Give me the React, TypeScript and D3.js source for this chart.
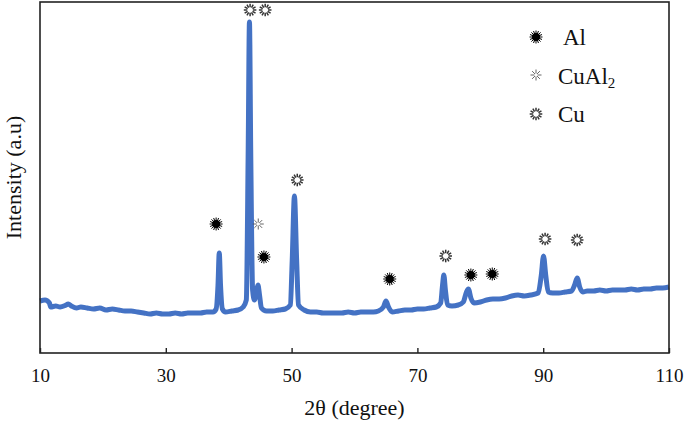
// XRD pattern chart
import React, { useEffect, useRef } from 'react';
import * as d3 from 'd3';

const twoTheta = [
  10.0, 10.8, 11.5, 11.7, 12.5, 13.2, 14.0, 14.5, 15.0, 15.8, 16.5, 17.5, 18.5, 19.5, 20.5,
  21.5, 22.5, 23.5, 24.5, 25.5, 26.5, 27.5, 28.5, 29.5, 30.5, 31.5, 32.5, 33.5, 34.5, 35.5,
  36.5, 37.5, 38.0, 38.3, 38.5, 38.7, 39.0, 39.5, 40.5, 41.5, 42.3, 42.8, 43.1, 43.3, 43.5,
  43.8, 44.1, 44.4, 44.65, 44.9, 45.2, 46, 47, 48, 49, 49.8, 50.1, 50.45, 50.8, 51.1,
  52, 53, 54, 55, 56, 57, 58, 59, 60, 61, 62, 63, 63.8, 64.6, 65.0,
  65.4, 66.0, 67, 68, 69, 70, 71, 72, 73, 73.7, 74.0, 74.2, 74.45, 74.8, 75.5,
  76.5, 77.3, 77.8, 78.1, 78.5, 79, 80, 81, 82, 83, 84, 85, 86, 87, 88,
  89.2, 89.7, 90.05, 90.4, 90.8, 91.5, 92.5, 93.5, 94.5, 95.0, 95.4, 95.8, 96.3, 97, 98,
  99, 100, 101, 102, 103, 104, 105, 106, 107, 108, 109, 110
];
const intensity = [
  520, 530, 500, 460, 470, 460, 475, 490, 470, 450, 460, 450, 440, 450, 430,
  440, 430, 420, 420, 410, 400, 390, 400, 390, 390, 400, 390, 400, 400, 400,
  410, 410, 440, 680, 1000, 680, 440, 410, 420, 430, 460, 530, 2030, 3310, 2030,
  630, 530, 610, 680, 580, 450, 420, 420, 430, 440, 480, 930, 1570, 930, 480,
  430, 410, 410, 400, 400, 400, 400, 410, 400, 410, 410, 410, 420, 460, 520,
  460, 410, 420, 430, 430, 440, 440, 450, 460, 500, 680, 780, 630, 480, 470,
  480, 510, 610, 640, 550, 500, 510, 530, 540, 540, 550, 570, 580, 570, 580,
  600, 780, 970, 780, 610, 600, 600, 610, 620, 680, 750, 660, 610, 620, 620,
  630, 620, 630, 630, 630, 640, 630, 640, 640, 650, 650, 660
];

// phase markers: [2θ, intensity]
const alMarks: [number, number][] = [[38.0, 1290], [45.6, 960], [65.6, 740], [78.5, 780], [81.9, 790]];
const cuAl2Marks: [number, number][] = [[44.7, 1290]];
const cuMarks: [number, number][] = [[43.4, 3430], [45.8, 3430], [50.9, 1730], [74.5, 970], [90.3, 1140], [95.4, 1130]];

const xTicks = [10, 30, 50, 70, 90, 110];
const legendItems = [
  { kind: 'al', label: 'Al', sub: '' },
  { kind: 'cual2', label: 'CuAl', sub: '2' },
  { kind: 'cu', label: 'Cu', sub: '' }
];

const FONT = '"Liberation Serif", "Times New Roman", serif';

export default function App() {
  const svgRef = useRef<SVGSVGElement>(null);

  useEffect(() => {
    if (!svgRef.current) return;
    const svg = d3.select(svgRef.current);
    svg.selectAll('*').remove();

    const left = 40, right = 669, top = 2, bottom = 353;
    const x = d3.scaleLinear().domain([10, 110]).range([left, right]);
    const y = d3.scaleLinear().domain([0, 3510]).range([bottom, top]);

    const data = twoTheta.map((t, i) => [t, intensity[i]] as [number, number]);

    const line = d3.line<[number, number]>()
      .x(d => x(d[0]))
      .y(d => y(d[1]))
      .curve(d3.curveMonotoneX);

    svg.append('path')
      .datum(data)
      .attr('d', line)
      .attr('fill', 'none')
      .attr('stroke', '#4472C4')
      .attr('stroke-width', 5)
      .attr('stroke-linejoin', 'round');

    // frame
    svg.append('rect')
      .attr('x', left)
      .attr('y', top)
      .attr('width', right - left)
      .attr('height', bottom - top)
      .attr('fill', 'none')
      .attr('stroke', '#222')
      .attr('stroke-width', 1.6);

    // x axis
    const xAxis = svg.append('g')
      .attr('transform', `translate(0,${bottom})`)
      .call(d3.axisBottom(x).tickValues(xTicks).tickSizeInner(-5).tickSizeOuter(0).tickPadding(16));
    xAxis.select('.domain').remove();
    xAxis.selectAll('line').attr('stroke', '#222').attr('stroke-width', 1.4);
    xAxis.selectAll('text')
      .attr('font-family', FONT)
      .attr('font-size', 19)
      .attr('fill', '#111');

    svg.append('text')
      .attr('x', (left + right) / 2)
      .attr('y', 415)
      .attr('text-anchor', 'middle')
      .attr('font-family', FONT)
      .attr('font-size', 22)
      .attr('fill', '#111')
      .text('2θ (degree)');

    svg.append('text')
      .attr('transform', `translate(21,${(top + bottom) / 2}) rotate(-90)`)
      .attr('text-anchor', 'middle')
      .attr('font-family', FONT)
      .attr('font-size', 22)
      .attr('fill', '#111')
      .text('Intensity (a.u)');

    // marker drawers
    const drawAl = (g: d3.Selection<SVGGElement, unknown, null, undefined>) => {
      g.append('circle').attr('r', 4).attr('fill', '#000');
      d3.range(16).forEach(i => {
        const a = (i / 16) * Math.PI * 2;
        g.append('line')
          .attr('x1', Math.cos(a) * 3).attr('y1', Math.sin(a) * 3)
          .attr('x2', Math.cos(a) * 6.5).attr('y2', Math.sin(a) * 6.5)
          .attr('stroke', '#000').attr('stroke-width', 1);
      });
    };
    const drawCuAl2 = (g: d3.Selection<SVGGElement, unknown, null, undefined>) => {
      d3.range(8).forEach(i => {
        const a = (i / 8) * Math.PI * 2;
        g.append('line')
          .attr('x1', Math.cos(a) * 1.5).attr('y1', Math.sin(a) * 1.5)
          .attr('x2', Math.cos(a) * 5.5).attr('y2', Math.sin(a) * 5.5)
          .attr('stroke', '#555').attr('stroke-width', 0.9);
      });
    };
    const drawCu = (g: d3.Selection<SVGGElement, unknown, null, undefined>) => {
      d3.range(12).forEach(i => {
        const a = (i / 12) * Math.PI * 2;
        g.append('line')
          .attr('x1', Math.cos(a) * 2.8).attr('y1', Math.sin(a) * 2.8)
          .attr('x2', Math.cos(a) * 6.3).attr('y2', Math.sin(a) * 6.3)
          .attr('stroke', '#333').attr('stroke-width', 1.5);
      });
    };

    const place = (marks: [number, number][], draw: typeof drawAl) => {
      marks.forEach(m => {
        const g = svg.append('g').attr('transform', `translate(${x(m[0])},${y(m[1])})`);
        draw(g);
      });
    };
    place(alMarks, drawAl);
    place(cuAl2Marks, drawCuAl2);
    place(cuMarks, drawCu);

    // legend
    const legendY = [37, 75, 114];
    const legendBase = [45, 84, 122];
    legendItems.forEach((item, i) => {
      const g = svg.append('g').attr('transform', `translate(536,${legendY[i]})`);
      if (item.kind === 'al') drawAl(g);
      else if (item.kind === 'cual2') drawCuAl2(g);
      else drawCu(g);
      const t = svg.append('text')
        .attr('x', item.kind === 'al' ? 563 : 558)
        .attr('y', legendBase[i])
        .attr('font-family', FONT)
        .attr('font-size', 23)
        .attr('fill', '#111')
        .text(item.label);
      if (item.sub) {
        t.append('tspan').attr('font-size', 15).attr('dy', 4).text(item.sub);
      }
    });
  }, []);

  return (
    <svg
      ref={svgRef}
      width={685}
      height={421}
      style={{ position: 'absolute', left: 0, top: 0, background: '#fff' }}
    />
  );
}
